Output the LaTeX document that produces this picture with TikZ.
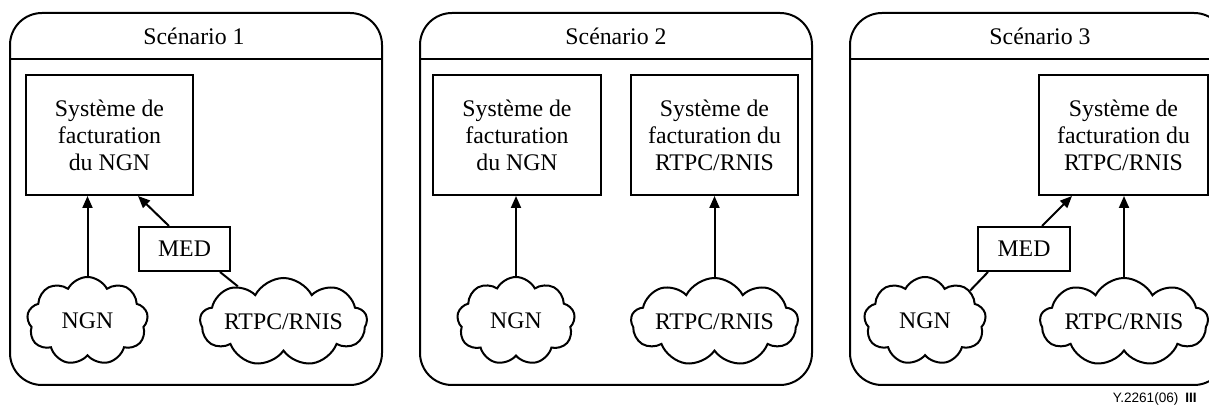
\documentclass[tikz,border=0pt]{standalone}
\usepackage{fontspec}
\setmainfont{Liberation Serif}
\newfontfamily\labelfont{Liberation Sans}
\usetikzlibrary{shapes.symbols,arrows.meta}
\begin{document}
\begin{tikzpicture}[x=0.5pt,y=-0.5pt,
  panel/.style={line width=1pt,rounded corners=16pt},
  hdr/.style={line width=1pt},
  ttl/.style={anchor=base,font=\fontsize{11.9}{13.5}\selectfont,inner sep=0pt},
  bill/.style={draw,line width=1pt,minimum width=#1,minimum height=60pt,align=center,
    inner sep=0pt,font=\fontsize{11.9}{13.5}\selectfont},
  medbox/.style={draw,line width=1pt,minimum width=#1,minimum height=22pt,inner sep=0pt,
    font=\fontsize{11.9}{13.5}\selectfont},
  net/.style={cloud,draw,line width=1pt,cloud puffs=9,cloud puff arc=125,aspect=1.6,
    cloud ignores aspect,minimum width=#1,minimum height=44pt,inner sep=0pt,
    font=\fontsize{11.9}{13.5}\selectfont},
  arr/.style={line width=1pt,-{Triangle[length=6pt,width=5pt]}},
  ln/.style={line width=1pt}]
\useasboundingbox (0,0) rectangle (1209,405);
\clip (0,0) rectangle (1209,405);
% ---------- Panel 1
\draw[panel] (10,13) rectangle (382,385);
\draw[hdr] (10,59) -- (382,59);
\node[ttl] (t1) at (194,45) {Scénario 1};
\node[bill=83.5pt] (box1) at (109.5,135) {Système de\\facturation\\du NGN};
\node[medbox=45.5pt] (med1) at (184.5,249) {MED};
\node[net=60.5pt] (ngn1) at (87.5,321) {NGN};
\node[net=83.5pt] (rtpc1) at (283.5,322) {RTPC/RNIS};
\draw[arr] (ngn1.north) -- (ngn1.north |- box1.south);
\draw[arr] (med1.north -| 169,0) -- (box1.south -| 138,0);
\draw[ln] (med1.south -| 220,0) -- (rtpc1.142);
% ---------- Panel 2
\draw[panel] (420,13) rectangle (812,385);
\draw[hdr] (420,59) -- (812,59);
\node[ttl] (t2) at (616,45) {Scénario 2};
\node[bill=84pt] (box2a) at (517,135) {Système de\\facturation\\du NGN};
\node[bill=83.5pt] (box2b) at (714.5,135) {Système de\\facturation du\\RTPC/RNIS};
\node[net=59pt] (ngn2) at (516,321) {NGN};
\node[net=83.5pt] (rtpc2) at (714.5,322) {RTPC/RNIS};
\draw[arr] (ngn2.north) -- (ngn2.north |- box2a.south);
\draw[arr] (rtpc2.north) -- (rtpc2.north |- box2b.south);
% ---------- Panel 3
\draw[panel] (850,13) rectangle (1226,385);
\draw[hdr] (850,59) -- (1226,59);
\node[ttl] (t3) at (1040,45) {Scénario 3};
\node[bill=84.5pt] (box3) at (1123.5,135) {Système de\\facturation du\\RTPC/RNIS};
\node[medbox=46pt] (med3) at (1024,249) {MED};
\node[net=61pt] (ngn3) at (925,321) {NGN};
\node[net=84pt] (rtpc3) at (1124,322) {RTPC/RNIS};
\draw[arr] (rtpc3.north) -- (rtpc3.north |- box3.south);
\draw[arr] (med3.north -| 1042,0) -- (box3.south -| 1072,0);
\draw[ln] (med3.south -| 988,0) -- (ngn3.34);
% ---------- figure label
\node[anchor=base east,inner sep=0pt,font=\labelfont\fontsize{6.8}{8}\selectfont] (lbl) at (1197,402) {Y.2261(06)\enspace\textbf{III}};
\end{tikzpicture}
\end{document}
